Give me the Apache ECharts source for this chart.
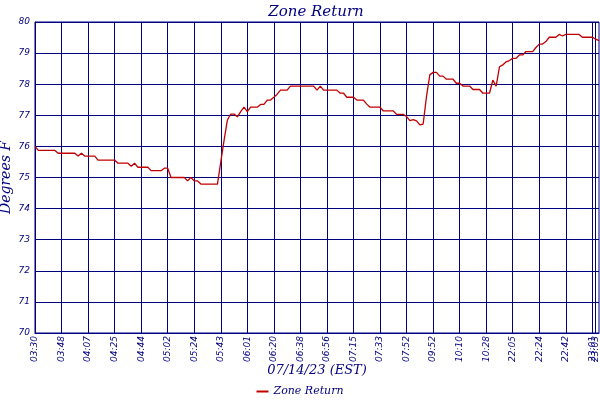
<!DOCTYPE html>
<html>
<head>
<meta charset="utf-8">
<script src="https://cdn.jsdelivr.net/npm/echarts@6/dist/echarts.min.js"></script>
<style>
  html, body { margin: 0; padding: 0; background: #fff; }
  #chart { width: 600px; height: 400px; }
</style>
</head>
<body>
<div id="chart"></div>
<script>
// tick labels and the sample index each one sits at
var tickLabels = ['03:30', '03:48', '04:07', '04:25', '04:44', '05:02', '05:24', '05:43',
  '06:01', '06:20', '06:38', '06:56', '07:15', '07:33', '07:52', '09:52', '10:10', '10:28',
  '22:05', '22:24', '22:42', '23:01', '23:03'];
var tickIndex = [0, 8, 16, 24, 32, 40, 48, 56, 64, 72, 80, 88, 96, 104, 112, 120, 128, 136,
  144, 152, 160, 168, 169];

// zone return temperature, one value per sample
var zoneReturn = [
  76.0, 75.87, 75.87, 75.87, 75.87, 75.87, 75.87, 75.78, 75.78, 75.78,
  75.78, 75.78, 75.78, 75.69, 75.78, 75.69, 75.69, 75.69, 75.69, 75.56,
  75.56, 75.56, 75.56, 75.56, 75.56, 75.46, 75.46, 75.46, 75.46, 75.36,
  75.46, 75.33, 75.33, 75.33, 75.33, 75.22, 75.22, 75.22, 75.22, 75.3,
  75.3, 75.0, 75.0, 75.0, 75.0, 75.0, 74.89, 75.0, 74.89, 74.89,
  74.79, 74.79, 74.79, 74.79, 74.79, 74.79, 75.5, 76.2, 76.85, 77.04,
  77.04, 76.95, 77.12, 77.26, 77.12, 77.26, 77.26, 77.26, 77.35, 77.35,
  77.49, 77.49, 77.58, 77.68, 77.81, 77.81, 77.81, 77.94, 77.94, 77.94,
  77.94, 77.94, 77.94, 77.94, 77.94, 77.81, 77.94, 77.81, 77.81, 77.81,
  77.81, 77.81, 77.71, 77.71, 77.58, 77.58, 77.58, 77.49, 77.49, 77.49,
  77.36, 77.26, 77.26, 77.26, 77.26, 77.14, 77.14, 77.14, 77.14, 77.03,
  77.03, 77.03, 76.96, 76.83, 76.86, 76.82, 76.69, 76.72, 77.6, 78.3,
  78.38, 78.38, 78.26, 78.26, 78.16, 78.16, 78.16, 78.03, 78.03, 77.94,
  77.94, 77.94, 77.83, 77.83, 77.83, 77.71, 77.71, 77.71, 78.13, 77.94,
  78.56, 78.62, 78.72, 78.76, 78.83, 78.83, 78.94, 78.94, 79.05, 79.05,
  79.05, 79.18, 79.29, 79.29, 79.37, 79.51, 79.51, 79.51, 79.6, 79.55,
  79.6, 79.6, 79.6, 79.6, 79.6, 79.51, 79.51, 79.51, 79.51, 79.45,
  79.4
];

var navy = '#000080';

// category per sample, labelled only where a tick sits
var categories = zoneReturn.map(function () { return ''; });
tickIndex.forEach(function (idx, i) { categories[idx] = tickLabels[i]; });

var lastTick = tickIndex[tickIndex.length - 1];

function isTick(index) {
  return categories[index] !== '';
}

// the last two ticks sit one sample apart; the second one gets its own axis
// so its label isn't dropped as overlapping
function isMainTick(index) {
  return isTick(index) && index !== lastTick;
}

var labelStyle = {
  rotate: 90,
  margin: 3,
  hideOverlap: false,
  color: navy,
  fontFamily: 'DejaVu Sans',
  fontStyle: 'italic',
  fontSize: 9
};

var chart = echarts.init(document.getElementById('chart'));

var option = {
  backgroundColor: '#fff',
  animation: false,
  title: {
    text: 'Zone Return',
    left: 311,
    top: 0,
    textAlign: 'center',
    textStyle: {
      color: navy,
      fontFamily: 'DejaVu Serif',
      fontStyle: 'italic',
      fontWeight: 'normal',
      fontSize: 15
    }
  },
  legend: {
    bottom: -2,
    left: 'center',
    icon: 'rect',
    itemWidth: 12,
    itemHeight: 2,
    itemGap: 4,
    textStyle: {
      color: navy,
      fontFamily: 'DejaVu Serif',
      fontStyle: 'italic',
      fontSize: 11
    },
    data: ['Zone Return']
  },
  grid: {
    left: 35,
    right: 1,
    top: 22,
    bottom: 67,
    outerBoundsMode: 'none',
    containLabel: false,
    show: true,
    borderColor: navy,
    borderWidth: 1
  },
  xAxis: [{
    type: 'category',
    boundaryGap: false,
    data: categories,
    name: '07/14/23 (EST)',
    nameLocation: 'middle',
    nameGap: 31,
    nameMoveOverlap: false,
    nameTextStyle: {
      color: navy,
      fontFamily: 'DejaVu Serif',
      fontStyle: 'italic',
      fontSize: 13
    },
    axisLine: { lineStyle: { color: navy, width: 1 } },
    axisTick: { show: false },
    axisLabel: Object.assign({ interval: isMainTick }, labelStyle),
    splitLine: {
      show: true,
      interval: isTick,
      lineStyle: { color: navy, width: 1 }
    }
  }, {
    type: 'category',
    position: 'bottom',
    boundaryGap: false,
    data: categories,
    axisLine: { show: false },
    axisTick: { show: false },
    splitLine: { show: false },
    axisLabel: Object.assign({
      interval: function (index) { return index === lastTick; }
    }, labelStyle)
  }],
  yAxis: {
    type: 'value',
    min: 70,
    max: 80,
    interval: 1,
    name: 'Degrees F',
    nameLocation: 'middle',
    nameGap: 22,
    nameMoveOverlap: false,
    nameTextStyle: {
      color: navy,
      fontFamily: 'DejaVu Serif',
      fontStyle: 'italic',
      fontSize: 14
    },
    axisLine: { show: true, lineStyle: { color: navy, width: 1 } },
    axisTick: { show: false },
    axisLabel: {
      margin: 5,
      color: navy,
      fontFamily: 'DejaVu Sans',
      fontStyle: 'italic',
      fontSize: 9
    },
    splitLine: { lineStyle: { color: navy, width: 1 } }
  },
  series: [{
    name: 'Zone Return',
    type: 'line',
    data: zoneReturn,
    showSymbol: false,
    color: '#c00000',
    lineStyle: { color: '#c00000', width: 1.3 }
  }]
};

chart.setOption(option);
</script>
</body>
</html>
